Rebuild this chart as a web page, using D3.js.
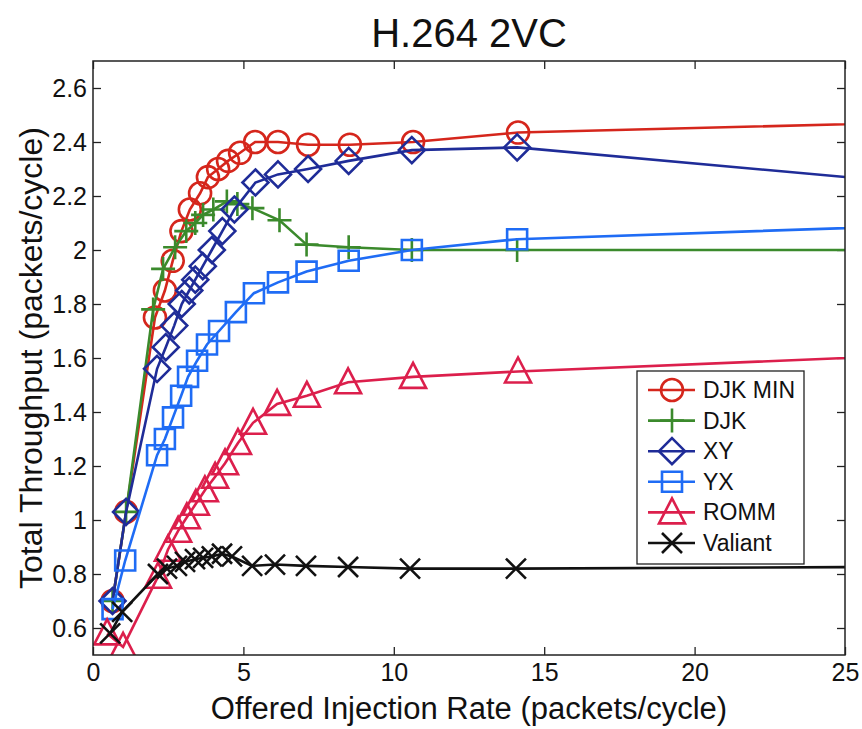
<!DOCTYPE html>
<html>
<head>
<meta charset="utf-8">
<script src="https://cdn.jsdelivr.net/npm/d3@7"></script>
<style>
  body { margin: 0; background: #fff; }
  text { font-family: "Liberation Sans", Arial, sans-serif; fill: #111; }
</style>
</head>
<body>
<div id="my_chart"></div>
<script>

// offered injection rate (x) and total throughput (y), one pair per scheme
var djkMinX = [0.65, 1.1, 2.06, 2.39, 2.65, 2.94, 3.22, 3.56, 3.82, 4.16, 4.49, 4.89, 5.39, 6.15, 7.15, 8.54, 10.64, 14.13, 30];
var djkMinY = [0.70, 1.03, 1.75, 1.85, 1.96, 2.07, 2.15, 2.21, 2.27, 2.30, 2.33, 2.36, 2.40, 2.40, 2.39, 2.39, 2.40, 2.435, 2.48];

var djkX = [0.65, 1.1, 2.0, 2.33, 2.73, 3.1, 3.4, 3.66, 4.0, 4.45, 4.8, 5.3, 6.2, 7.1, 8.5, 10.6, 14.1, 30];
var djkY = [0.70, 1.03, 1.78, 1.93, 2.01, 2.07, 2.10, 2.13, 2.15, 2.18, 2.17, 2.155, 2.11, 2.02, 2.01, 2.0, 2.0, 2.0];

var xyX = [0.65, 1.1, 2.13, 2.42, 2.7, 2.95, 3.2, 3.4, 3.65, 3.95, 4.3, 4.7, 5.4, 6.15, 7.15, 8.5, 10.6, 14.1, 30];
var xyY = [0.70, 1.03, 1.56, 1.64, 1.72, 1.80, 1.85, 1.89, 1.94, 2.0, 2.07, 2.15, 2.25, 2.28, 2.30, 2.33, 2.37, 2.38, 2.22];

var yxX = [0.65, 1.07, 2.13, 2.39, 2.66, 2.93, 3.16, 3.46, 3.79, 4.19, 4.75, 5.35, 6.15, 7.1, 8.5, 10.6, 14.1, 30];
var yxY = [0.67, 0.85, 1.24, 1.30, 1.38, 1.46, 1.53, 1.59, 1.65, 1.70, 1.77, 1.84, 1.88, 1.92, 1.96, 2.0, 2.04, 2.10];

var rommX = [0.47, 1.0, 2.16, 2.49, 2.83, 3.12, 3.42, 3.72, 4.06, 4.39, 4.82, 5.32, 6.12, 7.11, 8.48, 10.64, 14.13, 30];
var rommY = [0.58, 0.53, 0.79, 0.89, 0.96, 1.01, 1.06, 1.11, 1.16, 1.21, 1.285, 1.36, 1.43, 1.46, 1.51, 1.53, 1.55, 1.623];

var valiantX = [0.57, 0.97, 2.16, 2.46, 2.79, 3.06, 3.39, 3.66, 3.95, 4.29, 4.62, 5.29, 6.05, 7.08, 8.48, 10.54, 14.06, 30];
var valiantY = [0.58, 0.66, 0.80, 0.82, 0.83, 0.845, 0.855, 0.86, 0.865, 0.875, 0.865, 0.83, 0.835, 0.83, 0.826, 0.82, 0.82, 0.828];

var seriesNames = ["DJK MIN", "DJK", "XY", "YX", "ROMM", "Valiant"];
var xTicks = [0, 5, 10, 15, 20, 25];
var yTicks = [0.6, 0.8, 1, 1.2, 1.4, 1.6, 1.8, 2, 2.2, 2.4, 2.6];

var series = [
  { name: seriesNames[0], xs: djkMinX, ys: djkMinY, color: "#d5261c", marker: "circle" },
  { name: seriesNames[1], xs: djkX, ys: djkY, color: "#3b8a2c", marker: "plus" },
  { name: seriesNames[2], xs: xyX, ys: xyY, color: "#1f2c98", marker: "diamond" },
  { name: seriesNames[3], xs: yxX, ys: yxY, color: "#1f6cf5", marker: "square" },
  { name: seriesNames[4], xs: rommX, ys: rommY, color: "#dc1f4c", marker: "triangle" },
  { name: seriesNames[5], xs: valiantX, ys: valiantY, color: "#111111", marker: "cross" }
];

var W = 862, H = 729;
var margin = { top: 61, right: 17, bottom: 74, left: 93 },
  width = W - margin.left - margin.right,
  height = H - margin.top - margin.bottom;

var svg = d3.select("#my_chart")
  .append("svg")
  .attr("width", W)
  .attr("height", H);

var g = svg.append("g")
  .attr("transform", "translate(" + margin.left + "," + margin.top + ")");

var x = d3.scaleLinear().domain([0, 25]).range([0, width]);
var y = d3.scaleLinear().domain([0.5, 2.7]).range([height, 0]);

svg.append("defs").append("clipPath")
  .attr("id", "plotClip")
  .append("rect")
  .attr("width", width)
  .attr("height", height);

// marker shapes, MATLAB-ish
function markerPath(type) {
  if (type == "plus") return "M-12,0H12M0,-12V12";
  if (type == "diamond") return "M0,-13L13,0L0,13L-13,0Z";
  if (type == "square") return "M-10,-10H10V10H-10Z";
  if (type == "triangle") return "M0,-14L13,11H-13Z";
  if (type == "cross") return "M-10,-10L10,10M-10,10L10,-10";
  return null;
}

function addMarker(sel, type, color) {
  if (type == "circle") {
    sel.append("circle").attr("r", 11)
      .attr("fill", "none").attr("stroke", color).attr("stroke-width", 2.6);
  } else {
    sel.append("path").attr("d", markerPath(type))
      .attr("fill", "none").attr("stroke", color).attr("stroke-width", 2.6);
  }
}

// axes with inward ticks
var fmt = function (d) { return String(+d.toFixed(1)); };

var xAxis = g.append("g")
  .attr("transform", "translate(0," + height + ")")
  .call(d3.axisBottom(x).tickValues(xTicks).tickSize(-8).tickPadding(8).tickFormat(fmt));
var xTop = g.append("g")
  .call(d3.axisTop(x).tickValues(xTicks).tickSize(-8).tickFormat(""));
var yAxis = g.append("g")
  .call(d3.axisLeft(y).tickValues(yTicks).tickSize(-8).tickPadding(6).tickFormat(fmt));
var yRight = g.append("g")
  .attr("transform", "translate(" + width + ",0)")
  .call(d3.axisRight(y).tickValues(yTicks).tickSize(-8).tickFormat(""));

[xAxis, xTop, yAxis, yRight].forEach(function (a) {
  a.select(".domain").remove();
  a.selectAll(".tick line").attr("stroke", "#222").attr("stroke-width", 1.3);
  a.selectAll(".tick text").attr("font-size", 25).attr("fill", "#111")
    .style("font-family", "'Liberation Sans', Arial, sans-serif");
});

// series lines and markers
var plot = g.append("g").attr("clip-path", "url(#plotClip)");

series.forEach(function (s) {
  var pts = s.xs.map(function (v, i) { return [v, s.ys[i]]; });
  plot.append("path")
    .datum(pts)
    .attr("fill", "none")
    .attr("stroke", s.color)
    .attr("stroke-width", 2.6)
    .attr("d", d3.line().x(function (d) { return x(d[0]); }).y(function (d) { return y(d[1]); }));

  plot.selectAll(null)
    .data(pts)
    .enter()
    .append("g")
    .attr("transform", function (d) { return "translate(" + x(d[0]) + "," + y(d[1]) + ")"; })
    .each(function () { addMarker(d3.select(this), s.marker, s.color); });
});

// frame
g.append("rect")
  .attr("width", width)
  .attr("height", height)
  .attr("fill", "none")
  .attr("stroke", "#222")
  .attr("stroke-width", 1.5);

// title and axis labels
svg.append("text")
  .attr("x", margin.left + width / 2)
  .attr("y", 47)
  .attr("text-anchor", "middle")
  .attr("font-size", 40)
  .text("H.264 2VC");

svg.append("text")
  .attr("x", margin.left + width / 2)
  .attr("y", 719)
  .attr("text-anchor", "middle")
  .attr("font-size", 31)
  .text("Offered Injection Rate (packets/cycle)");

svg.append("text")
  .attr("transform", "translate(42," + (margin.top + height / 2) + ") rotate(-90)")
  .attr("text-anchor", "middle")
  .attr("font-size", 32)
  .text("Total Throughput (packets/cycle)");

// legend
var legend = svg.append("g").attr("transform", "translate(637,371)");
legend.append("rect")
  .attr("width", 167)
  .attr("height", 193)
  .attr("fill", "#fff")
  .attr("stroke", "#222")
  .attr("stroke-width", 1.3);

series.forEach(function (s, i) {
  var row = legend.append("g").attr("transform", "translate(0," + (19 + i * 30.6) + ")");
  row.append("line")
    .attr("x1", 11).attr("x2", 58)
    .attr("stroke", s.color).attr("stroke-width", 2.6);
  var m = row.append("g").attr("transform", "translate(35,0)");
  addMarker(m, s.marker, s.color);
  row.append("text")
    .attr("x", 66)
    .attr("y", 8)
    .attr("font-size", 23)
    .text(s.name);
});

</script>
</body>
</html>
